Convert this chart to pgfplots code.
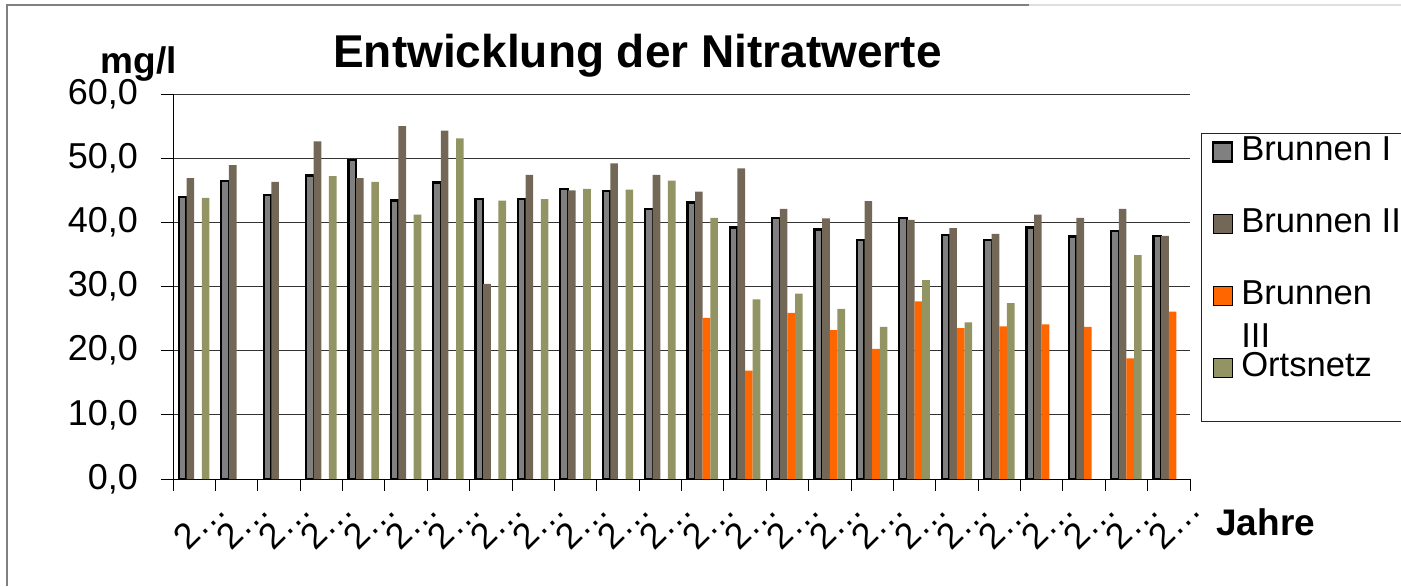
\documentclass[border=0pt]{standalone}
\usepackage{fontspec}
\setmainfont{Liberation Sans}
\usepackage{pgfplots}
\pgfplotsset{compat=1.18}
\definecolor{cBI}{RGB}{128,128,128}
\definecolor{cBII}{RGB}{115,104,88}
\definecolor{cBIII}{RGB}{255,102,0}
\definecolor{cOrt}{RGB}{147,148,100}
\begin{document}
\begin{tikzpicture}
\useasboundingbox (0,0) rectangle (700.5pt,293pt);
\draw[gray, line width=0.6pt] (3.5pt,0) -- (3.5pt,290.5pt) -- (514.5pt,290.5pt);
\draw[gray!25, line width=0.6pt] (514.5pt,290.5pt) -- (700.5pt,290.5pt);
\begin{axis}[
  at={(86.5pt,53.5pt)}, anchor=south west,
  scale only axis, width=508.5pt, height=192.5pt,
  ybar=0pt, bar width=0.18,
  xmin=-0.5, xmax=23.5, ymin=0, ymax=60,
  axis lines*=left, axis line style={-, black, line width=0.5pt},
  ytick={0,10,...,60},
  xtick={-0.5,0.5,...,23.5},
  x tick label as interval,
  xticklabels={2…,2…,2…,2…,2…,2…,2…,2…,2…,2…,2…,2…,2…,2…,2…,2…,2…,2…,2…,2…,2…,2…,2…,2…},
  tick align=outside, major tick length=5.8pt,
  tick style={black, line width=0.5pt},
  ymajorgrids, major grid style={black!80, line width=0.5pt},
  /pgf/number format/assume math mode=true,
  /pgf/number format/.cd, fixed, fixed zerofill, precision=1, use comma, /pgfplots/.cd,
  tick label style={font=\fontsize{18}{18}\selectfont},
  yticklabel style={anchor=east, inner sep=0pt, xshift=-11.5pt},
  xticklabel style={inner sep=0pt, xshift=12.75pt, yshift=-6pt, rotate=45, anchor=east},
  title={Entwicklung der Nitratwerte},
  every axis title/.style={at={(axis description cs:0.4567,1.0683)}, anchor=base, inner sep=0pt, font=\bfseries\fontsize{23}{23}\selectfont},
  every axis y label/.style={at={(axis description cs:-0.0337,1.0538)}, anchor=base, inner sep=0pt, font=\bfseries\fontsize{18.5}{18.5}\selectfont},
  ylabel={mg/l},
  every axis x label/.style={at={(axis description cs:1.0745,-0.148)}, anchor=base, inner sep=0pt, font=\bfseries\fontsize{18.5}{18.5}\selectfont},
  xlabel={Jahre},
  legend cell align=left,
  legend style={at={(axis description cs:1.0213,0.8935)}, anchor=north west, draw=none, fill=none, inner sep=0pt,
    row sep=19.5pt, column sep=4pt,
    nodes={inner sep=0pt, text height=12.5pt, text depth=4pt, font=\fontsize{17.3}{17.3}\selectfont}},
  legend image code/.code={\draw[#1] (0pt,-4.75pt) rectangle (9.5pt,4.75pt);},
]
\addplot[bar shift=-0.27, fill=cBI, draw=black, line width=1.1pt] coordinates {
(0,44.0) (1,46.4) (2,44.2) (3,47.3) (4,49.7) (5,43.4) (6,46.2) (7,43.7) (8,43.7) (9,45.2) (10,44.9) (11,42.1)
(12,43.1) (13,39.2) (14,40.7) (15,38.9) (16,37.2) (17,40.7) (18,38.0) (19,37.2) (20,39.2) (21,37.8) (22,38.6) (23,37.9)};
\addlegendentry{Brunnen I}
\addplot[bar shift=-0.09, fill=cBII, draw=none] coordinates {
(0,46.9) (1,48.9) (2,46.3) (3,52.6) (4,46.9) (5,55.0) (6,54.3) (7,30.4) (8,47.4) (9,45.0) (10,49.2) (11,47.4)
(12,44.8) (13,48.4) (14,42.1) (15,40.6) (16,43.3) (17,40.4) (18,39.1) (19,38.2) (20,41.2) (21,40.7) (22,42.1) (23,37.9)};
\addlegendentry{Brunnen II}
\addplot[bar shift=0.09, fill=cBIII, draw=none] coordinates {
(12,25.1) (13,16.9) (14,25.9) (15,23.2) (16,20.3) (17,27.7) (18,23.5) (19,23.8) (20,24.1) (21,23.7) (22,18.8) (23,26.1)};
\addlegendentry{\smash{\rlap{\raisebox{-21.5pt}{III}}}Brunnen}
\addplot[bar shift=0.27, fill=cOrt, draw=none] coordinates {
(0,43.8) (3,47.2) (4,46.3) (5,41.2) (6,53.1) (7,43.4) (8,43.6) (9,45.2) (10,45.1) (11,46.5)
(12,40.7) (13,28.0) (14,28.9) (15,26.5) (16,23.7) (17,31.0) (18,24.4) (19,27.4) (22,34.9)};
\addlegendentry{Ortsnetz}
\end{axis}
\draw[black!85, line width=0.5pt] (710pt,226.35pt) -- (600.5pt,226.35pt) -- (600.5pt,82.5pt) -- (710pt,82.5pt);
\end{tikzpicture}
\end{document}
